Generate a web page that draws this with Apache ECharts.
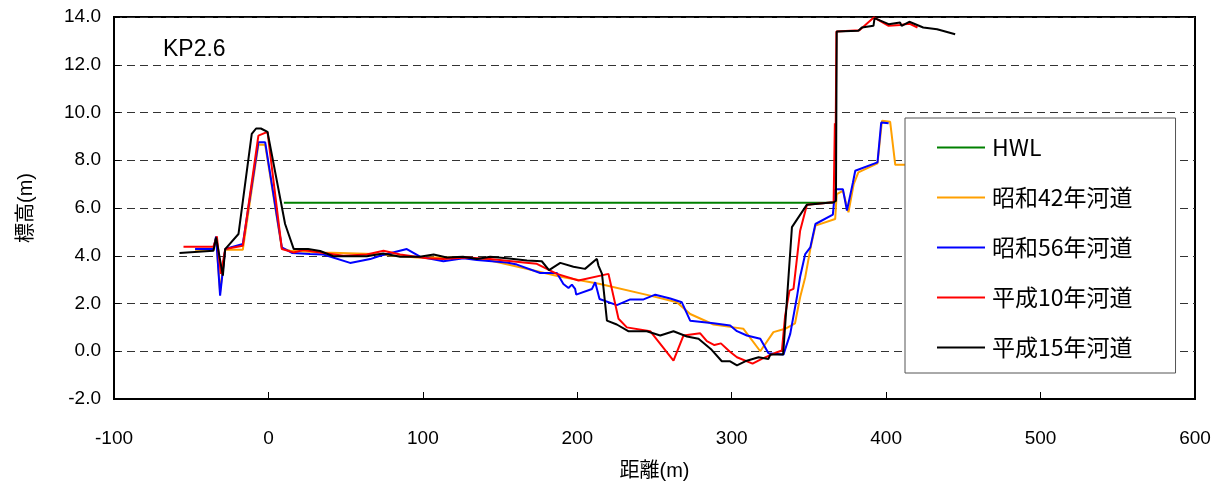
<!DOCTYPE html>
<html>
<head>
<meta charset="utf-8">
<script src="https://cdn.jsdelivr.net/npm/echarts@6/dist/echarts.min.js"></script>
<style>
html,body{margin:0;padding:0;background:#fff;}
#c{width:1223px;height:492px;}
</style>
</head>
<body>
<div id="c"></div>
<script>
// ---- data (distance m, elevation m) ----
const seriesNames = ['HWL', '昭和42年河道', '昭和56年河道', '平成10年河道', '平成15年河道'];
const xTicks = [-100, 0, 100, 200, 300, 400, 500, 600];
const yTicks = [-2, 0, 2, 4, 6, 8, 10, 12, 14];

const hwl = [[10, 6.22], [367, 6.22]];

const s42 = [[-47.5,4.25],[-35.6,4.25],[-33.9,4.75],[-31.3,2.5],[-28,4.25],[-16.6,4.25],[-6.5,8.65],[-2.1,8.65],[8.7,4.3],[14,4.21],[35.6,4.14],[68,4.07],[96.1,3.93],[126.3,3.93],[143.6,3.8],[165,3.49],[188.5,3.13],[214.8,2.82],[247.2,2.33],[264.5,2.05],[273.1,1.56],[288.2,1.12],[301.2,1.0],[307.6,0.94],[318.5,0.0],[327,0.8],[334.6,0.94],[341,1.17],[344.3,2.26],[347.6,3.1],[350.9,4.28],[354.2,5.26],[367,5.54],[368,6.58],[372,6.72],[375.6,5.82],[379,7.0],[382,7.49],[394.4,7.87],[397.3,9.65],[402.6,9.61],[405.9,7.81],[415,7.81]];

const s56 = [[-47.5,4.28],[-35.6,4.28],[-33.9,4.81],[-31.3,2.33],[-28,4.28],[-16.6,4.49],[-6.5,8.75],[-2.1,8.75],[8.7,4.35],[15.2,4.12],[27,4.07],[35.6,4.05],[52.9,3.7],[65.9,3.86],[72.3,4.0],[89.6,4.28],[98.2,3.96],[113.3,3.77],[126.3,3.9],[135,3.82],[154.4,3.72],[160.9,3.63],[176,3.28],[186.8,3.28],[191,2.82],[194.3,2.65],[196.5,2.79],[198.6,2.61],[199.3,2.37],[209.5,2.61],[211.6,2.89],[214.4,2.19],[225.6,1.93],[234.3,2.17],[242.9,2.17],[250.5,2.37],[260.2,2.21],[267.7,2.05],[273.1,1.28],[288.2,1.17],[299,1.08],[303.4,0.84],[309.8,0.66],[318.5,0.52],[323.8,-0.08],[333.5,-0.14],[337.9,0.73],[342.2,2.26],[344.3,3.12],[347.6,4.07],[350.9,4.35],[354.2,5.33],[365.5,5.72],[367,6.79],[372,6.79],[374.6,5.89],[378.5,7.07],[380,7.56],[394.4,7.91],[396.8,9.58],[401.6,9.55]];

const s10 = [[-55,4.38],[-35.6,4.38],[-33.4,4.81],[-30.8,3.24],[-28,4.28],[-16.6,4.42],[-6.5,9.03],[-0.6,9.19],[8.7,4.28],[16.2,4.14],[22.7,4.24],[33.5,4.14],[48.6,4.0],[63.7,4.05],[74.5,4.21],[85.3,4.05],[102.6,3.9],[113.3,3.86],[128.5,3.93],[143.6,3.86],[165.2,3.72],[173.8,3.66],[186.8,3.24],[200.8,2.96],[220.2,3.24],[226.7,1.36],[232.1,1.0],[247.2,0.84],[262.3,-0.39],[268.8,0.66],[279.6,0.75],[283.9,0.42],[288.8,0.26],[293,0.33],[298.5,0.0],[303.4,-0.25],[313.5,-0.52],[319.5,-0.32],[329.3,-0.04],[332.5,0.03],[334.6,1.49],[337.4,2.54],[340,2.61],[344.3,5.05],[348.7,6.14],[366,6.24],[366.8,9.55],[367.2,7.98],[367.8,13.39],[382.7,13.45],[392,13.98],[393,13.9],[401.6,13.63],[409,13.67],[415,13.72],[420.3,13.56]];

const s15 = [[-57.6,4.12],[-35.6,4.21],[-33.9,4.77],[-29.5,3.17],[-28,4.28],[-19.4,4.91],[-10.8,9.1],[-8,9.33],[-4.9,9.33],[-0.6,9.19],[10.8,5.33],[16.4,4.28],[25.7,4.28],[33.5,4.2],[42,3.98],[63.7,3.98],[74.3,4.09],[85.3,3.96],[98,3.96],[107,4.05],[115.5,3.93],[126,3.96],[135,3.86],[143.6,3.96],[154.4,3.9],[167.4,3.8],[177,3.77],[181.7,3.4],[189,3.7],[197.5,3.54],[205,3.45],[212.7,3.87],[213.7,3.59],[216,3.24],[219.2,1.28],[225.6,1.12],[233,0.84],[245,0.84],[253.7,0.66],[262.3,0.84],[271,0.62],[278.5,0.52],[287,0.06],[293.6,-0.42],[299,-0.42],[303.4,-0.59],[308.7,-0.42],[317.4,-0.25],[323.8,-0.32],[325,-0.14],[333.3,-0.14],[339,5.2],[348.7,6.14],[366,6.24],[367.5,6.3],[368,13.39],[382,13.42],[384.3,13.56],[391.8,13.63],[392.5,13.95],[401.6,13.7],[409,13.77],[410,13.63],[415,13.8],[424,13.56],[433,13.49],[444.7,13.28]];

const colors = ['#008000', '#FFA000', '#0000FF', '#FF0000', '#000000'];
const allData = [hwl, s42, s56, s10, s15];

const FONT = "'Liberation Sans', Arial, 'Noto Sans CJK JP', sans-serif";

const chart = echarts.init(document.getElementById('c'), null, {renderer: 'canvas'});
chart.setOption({
  animation: false,
  backgroundColor: '#fff',
  title: {
    text: 'KP2.6',
    left: 158, top: 33,
    textStyle: {fontFamily: FONT, fontSize: 23, fontWeight: 'normal', color: '#000'}
  },
  grid: {
    left: 114, right: 28, top: 17, bottom: 93,
    show: true, borderColor: '#000', borderWidth: 2, backgroundColor: 'transparent'
  },
  legend: {
    orient: 'vertical',
    left: 905, top: 118,
    padding: [18, 43, 14, 32],
    itemGap: 27,
    itemWidth: 48, itemHeight: 2,
    icon: 'rect',
    backgroundColor: '#fff',
    borderColor: '#555', borderWidth: 1,
    textStyle: {fontFamily: "'Noto Sans CJK JP', sans-serif", fontSize: 23, lineHeight: 23, color: '#000', padding: [0,0,0,2]},
    data: seriesNames
  },
  xAxis: {
    type: 'value',
    min: xTicks[0], max: xTicks[xTicks.length - 1], interval: 100,
    name: '距離(m)', nameLocation: 'middle', nameGap: 62,
    nameTextStyle: {fontFamily: FONT, fontSize: 20, color: '#000'},
    axisLine: {show: true, onZero: false, lineStyle: {color: '#000', width: 2}},
    axisTick: {show: true, inside: true, length: 7, lineStyle: {color: '#000', width: 1}},
    axisLabel: {fontFamily: FONT, fontSize: 19, color: '#000', margin: 30},
    splitLine: {show: false}
  },
  yAxis: {
    type: 'value',
    min: yTicks[0], max: yTicks[yTicks.length - 1], interval: 2,
    name: '標高(m)', nameLocation: 'middle', nameGap: 78, nameRotate: 90,
    nameTextStyle: {fontFamily: FONT, fontSize: 20, color: '#000'},
    axisLine: {show: true, onZero: false, lineStyle: {color: '#000', width: 2}},
    axisTick: {show: true, inside: true, length: 6, lineStyle: {color: '#000', width: 1}},
    axisLabel: {fontFamily: FONT, fontSize: 19, color: '#000', margin: 13,
      formatter: v => v.toFixed(1)},
    splitLine: {show: true, lineStyle: {color: '#333', width: 1, type: [8, 5]}}
  },
  series: allData.map((d, i) => ({
    name: seriesNames[i],
    type: 'line',
    data: d,
    showSymbol: false,
    symbol: 'none',
    lineStyle: {color: colors[i], width: 2},
    itemStyle: {color: colors[i]},
    z: 2 + i
  }))
});
</script>
</body>
</html>
